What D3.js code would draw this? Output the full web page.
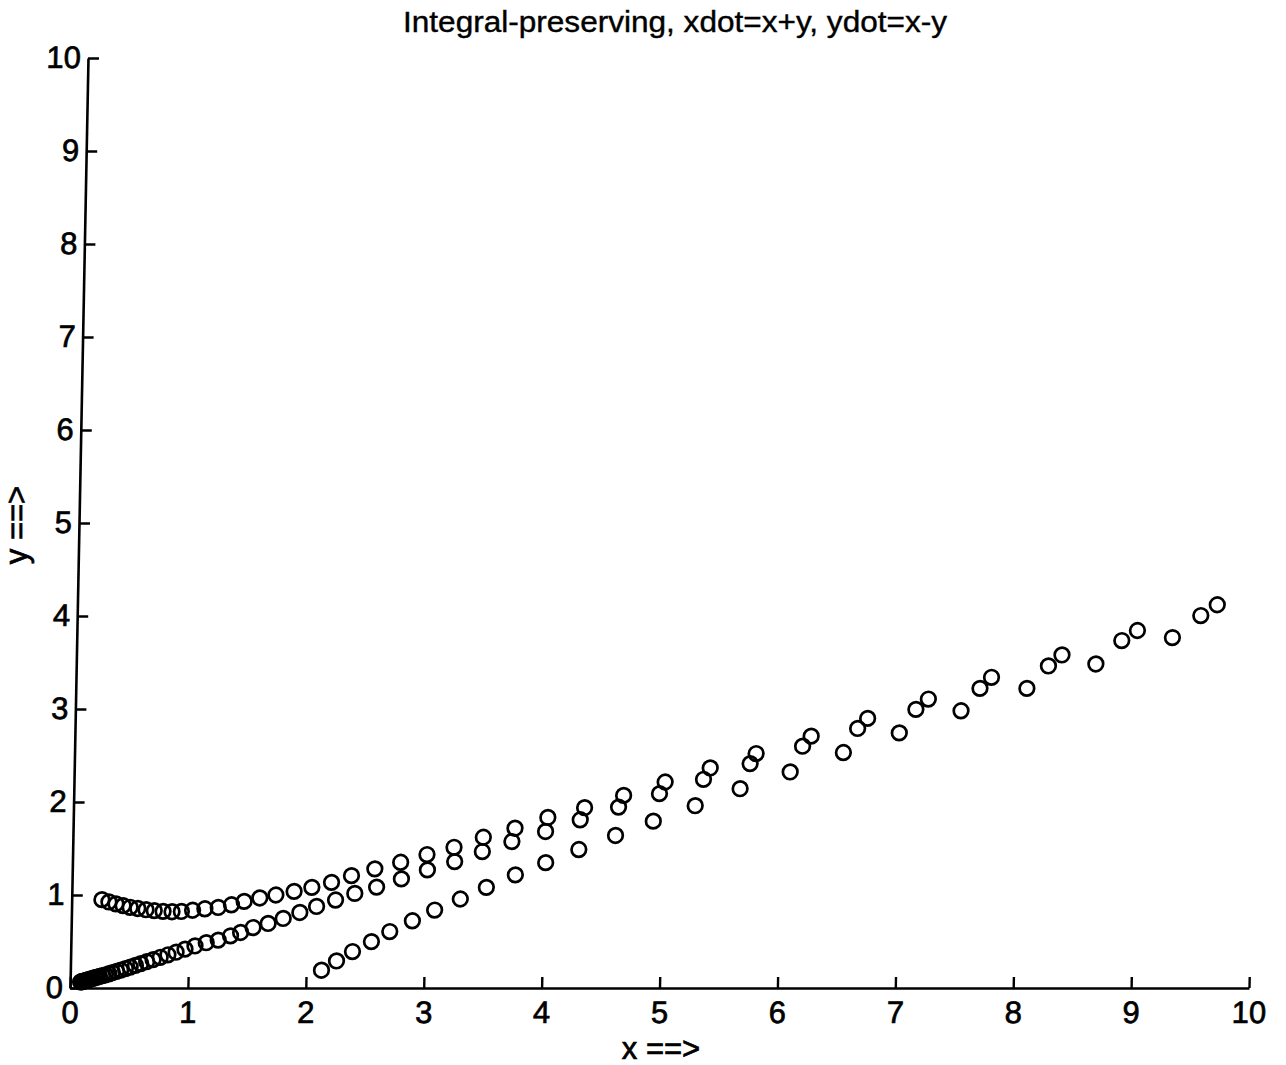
<!DOCTYPE html>
<html>
<head>
<meta charset="utf-8">
<script src="https://cdn.jsdelivr.net/npm/d3@7"></script>
<style>
  body { margin: 0; background: #fff; }
  text { font-family: "Liberation Sans", Arial, Helvetica, sans-serif; fill: #000; stroke: #000; stroke-width: 0.7px; }
</style>
</head>
<body>
<svg id="chart" width="1286" height="1065"></svg>
<script>
// Labels
const titleText = "Integral-preserving, xdot=x+y, ydot=x-y";
const xLabelText = "x ==>";
const yLabelText = "y ==>";

// Tick values
const xTicks = [0, 1, 2, 3, 4, 5, 6, 7, 8, 9, 10];
const yTicks = [0, 1, 2, 3, 4, 5, 6, 7, 8, 9, 10];

// Trajectory starting near (0.26, 0.95)
const upperX = [0.256, 0.316, 0.376, 0.437, 0.497, 0.562, 0.632, 0.702, 0.777, 0.853, 0.932, 1.027, 1.131, 1.244, 1.356, 1.463, 1.595, 1.731, 1.885, 2.035, 2.201, 2.369, 2.566, 2.784, 3.006, 3.234, 3.481, 3.748, 4.025, 4.335, 4.664, 5.014, 5.394, 5.781, 6.245, 6.721, 7.233, 7.765, 8.359, 8.995, 9.668];
const upperY = [0.950, 0.925, 0.905, 0.886, 0.868, 0.855, 0.842, 0.832, 0.824, 0.820, 0.823, 0.836, 0.852, 0.866, 0.895, 0.931, 0.968, 1.000, 1.039, 1.082, 1.136, 1.208, 1.281, 1.352, 1.435, 1.513, 1.621, 1.718, 1.834, 1.939, 2.071, 2.215, 2.366, 2.521, 2.708, 2.899, 3.107, 3.341, 3.581, 3.844, 4.121];

// Trajectory starting near the origin
const lowerX = [0.089, 0.096, 0.104, 0.113, 0.123, 0.134, 0.146, 0.159, 0.174, 0.190, 0.208, 0.228, 0.248, 0.273, 0.298, 0.328, 0.357, 0.392, 0.427, 0.467, 0.507, 0.551, 0.596, 0.646, 0.700, 0.760, 0.825, 0.894, 0.969, 1.053, 1.148, 1.249, 1.353, 1.438, 1.543, 1.670, 1.797, 1.937, 2.078, 2.238, 2.400, 2.584, 2.793, 3.012, 3.242, 3.475, 3.724, 4.008, 4.300, 4.623, 4.968, 5.339, 5.732, 6.174, 6.638, 7.129, 7.669, 8.246, 8.864, 9.530];
const lowerY = [0.065, 0.067, 0.070, 0.073, 0.077, 0.081, 0.086, 0.091, 0.097, 0.103, 0.110, 0.117, 0.124, 0.133, 0.142, 0.153, 0.165, 0.179, 0.193, 0.209, 0.225, 0.243, 0.262, 0.283, 0.305, 0.330, 0.357, 0.385, 0.418, 0.452, 0.487, 0.515, 0.561, 0.597, 0.650, 0.694, 0.748, 0.812, 0.877, 0.946, 1.017, 1.085, 1.173, 1.270, 1.359, 1.467, 1.575, 1.683, 1.809, 1.945, 2.090, 2.244, 2.413, 2.600, 2.791, 2.996, 3.222, 3.463, 3.736, 4.005];

// Trajectory starting near (2.13, 0.19)
const rightX = [2.130, 2.256, 2.390, 2.549, 2.703, 2.893, 3.080, 3.296, 3.515, 3.759, 4.014, 4.293, 4.602, 4.920, 5.273, 5.651, 6.073, 6.521, 6.992, 7.512, 8.067, 8.648, 9.293];
const rightY = [0.191, 0.291, 0.392, 0.499, 0.607, 0.723, 0.838, 0.957, 1.082, 1.216, 1.348, 1.489, 1.640, 1.794, 1.960, 2.143, 2.323, 2.532, 2.743, 2.981, 3.222, 3.484, 3.768];

const series = [
  { xs: upperX, ys: upperY },
  { xs: lowerX, ys: lowerY },
  { xs: rightX, ys: rightY }
];

const plotLeft = 70, plotRight = 1249, plotTop = 58, plotBottom = 988;
const x = d3.scaleLinear().domain([0, 10]).range([plotLeft, plotRight]);
const y = d3.scaleLinear().domain([0, 10]).range([plotBottom, plotTop]);

const svg = d3.select("#chart");
svg.append("rect").attr("width", 1286).attr("height", 1065).attr("fill", "#fff");

// The frame leans slightly to the right towards the top
const lean = 18 / (plotBottom - plotTop);
const plot = svg.append("g")
  .attr("transform", `translate(${lean * plotBottom},0) skewX(${-Math.atan(lean) * 180 / Math.PI})`);

const fontSize = 31;

// Y axis, ticks pointing inward
const yAxis = plot.append("g")
  .attr("transform", `translate(${plotLeft},0)`)
  .call(d3.axisLeft(y).tickValues(yTicks).tickFormat(d3.format("d"))
    .tickSizeInner(-11).tickSizeOuter(0).tickPadding(7));

// X axis, ticks pointing inward
const xAxis = plot.append("g")
  .attr("transform", `translate(0,${plotBottom})`)
  .call(d3.axisBottom(x).tickValues(xTicks).tickFormat(d3.format("d"))
    .tickSizeInner(-11).tickSizeOuter(0).tickPadding(13));

[yAxis, xAxis].forEach(g => {
  g.attr("font-size", fontSize).attr("font-family", "Liberation Sans, Arial, sans-serif");
  g.select(".domain").attr("stroke", "#000").attr("stroke-width", 2.6);
  g.selectAll(".tick line").attr("stroke", "#000").attr("stroke-width", 2.4);
  g.selectAll(".tick text").attr("fill", "#000");
});

// Circle markers for every trajectory
series.forEach(s => {
  plot.append("g")
    .selectAll("circle")
    .data(d3.range(s.xs.length))
    .join("circle")
    .attr("cx", i => x(s.xs[i]))
    .attr("cy", i => y(s.ys[i]))
    .attr("r", 7.3)
    .attr("fill", "none")
    .attr("stroke", "#000")
    .attr("stroke-width", 2.7);
});

// Title
svg.append("text")
  .attr("x", 675).attr("y", 32)
  .attr("text-anchor", "middle")
  .attr("font-size", 29)
  .attr("textLength", 544)
  .attr("lengthAdjust", "spacingAndGlyphs")
  .style("stroke-width", "0.4px")
  .text(titleText);

// Axis labels
svg.append("text")
  .attr("x", 661).attr("y", 1059)
  .attr("text-anchor", "middle")
  .attr("font-size", fontSize)
  .text(xLabelText);

svg.append("text")
  .attr("transform", "translate(27,525) rotate(-90)")
  .attr("text-anchor", "middle")
  .attr("font-size", fontSize)
  .text(yLabelText);
</script>
</body>
</html>
